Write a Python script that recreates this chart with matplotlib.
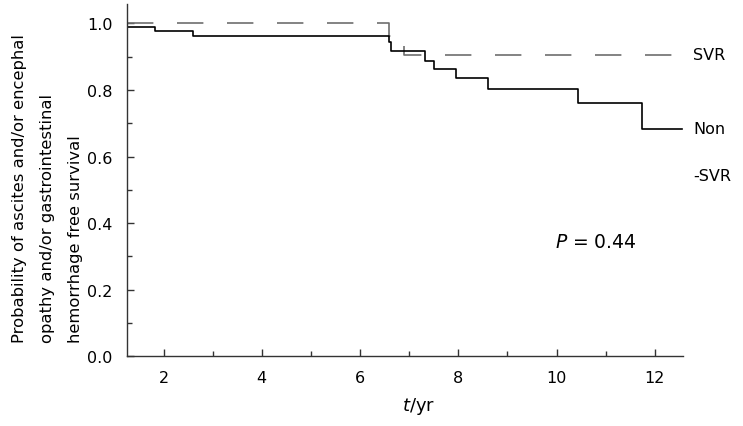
import matplotlib
matplotlib.use("Agg")
import matplotlib.pyplot as plt
from matplotlib.ticker import MultipleLocator

plt.rcParams['font.family'] = ['DejaVu Sans']
plt.rcParams['lines.scale_dashes'] = False

# Kaplan-Meier step data (time in years, survival probability)
svr_t = [1.25, 6.58, 6.89, 12.56]
svr_s = [1.000, 0.961, 0.906, 0.906]

non_t = [1.25, 1.83, 2.60, 6.58, 6.62, 7.33, 7.51, 7.96, 8.61, 10.44, 11.74, 12.56]
non_s = [0.988, 0.976, 0.962, 0.943, 0.916, 0.888, 0.863, 0.835, 0.803, 0.760, 0.683, 0.683]

x_ticks = [2, 4, 6, 8, 10, 12]
y_ticks = [0.0, 0.2, 0.4, 0.6, 0.8, 1.0]
y_labels = ["0.0", "0.2", "0.4", "0.6", "0.8", "1.0"]

fig = plt.figure(figsize=(7.43, 4.27), dpi=100)
ax = fig.add_axes([0.1705, 0.1632, 0.7492, 0.8250])

ax.step(svr_t, svr_s, where='post', color='#6e6e6e', lw=1.2, dashes=(19, 17))
ax.step(non_t, non_s, where='post', color='black', lw=1.2)

ax.set_xlim(1.25, 12.58)
ax.set_ylim(0, 1.058)
ax.set_xticks(x_ticks)
ax.set_xticklabels([str(v) for v in x_ticks])
ax.set_yticks(y_ticks)
ax.set_yticklabels(y_labels)
ax.xaxis.set_minor_locator(MultipleLocator(1))
ax.yaxis.set_minor_locator(MultipleLocator(0.1))

for s in ['top', 'right']:
    ax.spines[s].set_visible(False)
for s in ['left', 'bottom']:
    ax.spines[s].set_color('#333333')
    ax.spines[s].set_linewidth(1.0)

ax.tick_params(axis='both', which='major', direction='in', length=5, width=1,
               color='#333333', labelsize=11.5, pad=10)
ax.tick_params(axis='both', which='minor', direction='in', length=3.6, width=1,
               color='#333333')

ax.text(0.525, -0.11, r'$t$/yr', transform=ax.transAxes, ha='center', va='top',
        fontsize=13)

fig.text(47.5 / 743, 1 - 343 / 427,
         "Probability of ascites and/or encephal\nopathy and/or gastrointestinal\nhemorrhage free survival",
         rotation=90, ha='center', va='bottom', multialignment='left',
         fontsize=11.8, linespacing=2.1)

ax.text(12.78, 0.906, 'SVR', ha='left', va='center', fontsize=11.5)
ax.text(12.78, 0.683, 'Non', ha='left', va='center', fontsize=11.5)
ax.text(12.78, 0.543, '-SVR', ha='left', va='center', fontsize=11.5,
        clip_on=False)

ax.text(10.8, 0.346, r'$P$ = 0.44', ha='center', va='center', fontsize=13.5)

fig.savefig('out.png', dpi=100)
